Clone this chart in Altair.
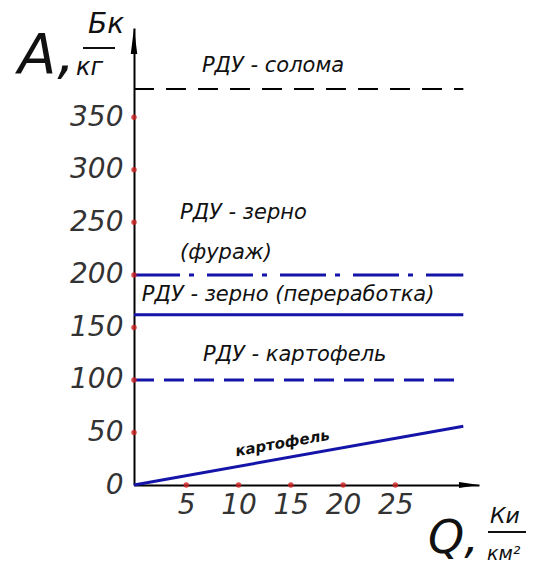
import altair as alt
import pandas as pd

# ---- data ----
Y_TICKS = [0, 50, 100, 150, 200, 250, 300, 350]
X_TICKS = [5, 10, 15, 20, 25]
RED_Y = [50, 100, 150, 200, 250, 300, 350]
RDU_NAMES = ["солома", "зерно (фураж)", "зерно (переработка)", "картофель"]
RDU_VALUES = [377, 200, 162, 100]
LINE_END_Q = 31.5
POTATO_Q = [0, 31.5]
POTATO_A = [0, 56]
X_MAX = 33
Y_MAX = 435

LABEL_TEXTS = ["РДУ - солома", "РДУ - зерно", "(фураж)", "РДУ - зерно (переработка)", "РДУ - картофель"]
LABEL_Q = [6.5, 4.4, 4.4, 0.75, 6.6]
LABEL_A = [399, 259, 221, 181, 124]

FONT = "DejaVu Sans, sans-serif"
BLUE = "#1414a8"

xs = alt.Scale(domain=[0, X_MAX], nice=False, zero=False)
ys = alt.Scale(domain=[0, Y_MAX], nice=False, zero=False)
xa = alt.Axis(values=X_TICKS, title=None, grid=False, ticks=False, domainColor="black",
              domainWidth=2, labelFont=FONT, labelFontStyle="italic", labelFontSize=28,
              labelColor="#333", labelPadding=6, labelFontWeight="normal")
ya = alt.Axis(values=Y_TICKS, title=None, grid=False, ticks=False, domainColor="black",
              domainWidth=2, labelFont=FONT, labelFontStyle="italic", labelFontSize=28,
              labelColor="#333", labelPadding=11, labelFontWeight="normal")


def X(f):
    return alt.X(f, type="quantitative", scale=xs, axis=xa)


def Y(f):
    return alt.Y(f, type="quantitative", scale=ys, axis=ya)


rdu_df = pd.DataFrame({"name": RDU_NAMES, "a": RDU_VALUES, "q": 0, "q2": LINE_END_Q})
styles = [("black", [20, 12], 2), (BLUE, [46, 9, 5, 13], 3), (BLUE, [1, 0], 3), (BLUE, [20, 10], 3)]
layers = []
for i, (col, dash, w) in enumerate(styles):
    layers.append(
        alt.Chart(rdu_df.iloc[[i]]).mark_rule(color=col, strokeDash=dash, strokeWidth=w)
        .encode(x=X("q"), x2="q2", y=Y("a"))
    )

line_df = pd.DataFrame({"q": POTATO_Q, "a": POTATO_A})
layers.append(alt.Chart(line_df).mark_line(color=BLUE, strokeWidth=3).encode(x=X("q"), y=Y("a")))

# red tick dots
dots = pd.DataFrame({"q": [0] * len(RED_Y) + X_TICKS, "a": RED_Y + [0] * len(X_TICKS)})
layers.append(alt.Chart(dots).mark_point(filled=True, color="#d02020", size=30, opacity=0.8)
              .encode(x=X("q"), y=Y("a")))

# axis arrows
arr_y = pd.DataFrame({"q": [0], "a": [Y_MAX]})
layers.append(alt.Chart(arr_y).mark_point(filled=True, color="black", opacity=1, size=676,
                                          shape="M0,0L0.25,2L-0.25,2Z")
              .encode(x=X("q"), y=Y("a")))
arr_x = pd.DataFrame({"q": [X_MAX], "a": [0]})
layers.append(alt.Chart(arr_x).mark_point(filled=True, color="black", opacity=1, size=400,
                                          shape="M0,0L-2,-0.3L-2,0.3Z")
              .encode(x=X("q"), y=Y("a")))

# RDU labels
lab_df = pd.DataFrame({"t": LABEL_TEXTS, "q": LABEL_Q, "a": LABEL_A})
layers.append(alt.Chart(lab_df).mark_text(align="left", baseline="middle", font=FONT,
                                          fontStyle="italic", fontSize=21, color="#111")
              .encode(x=X("q"), y=Y("a"), text="t"))

pot_lab = pd.DataFrame({"t": ["картофель"], "q": [14.2], "a": [40]})
layers.append(alt.Chart(pot_lab).mark_text(align="center", baseline="middle", font=FONT,
                                           fontStyle="italic", fontWeight="bold", fontSize=15,
                                           angle=350, color="#111")
              .encode(x=X("q"), y=Y("a"), text="t"))


# axis titles (pixel positions relative to plot area)
def txt(t, x, y, size):
    return alt.Chart(pd.DataFrame({"t": [t]})).mark_text(
        align="left", baseline="alphabetic", font=FONT, fontStyle="italic",
        fontSize=size, color="#111").encode(x=alt.value(x), y=alt.value(y), text="t")


def bar(x1, x2, y):
    return alt.Chart(pd.DataFrame({"t": [0]})).mark_rule(color="#111", strokeWidth=2).encode(
        x=alt.value(x1), x2=alt.value(x2), y=alt.value(y))


layers += [
    txt("A,", -116, 45, 56),
    txt("Бк", -46, 5, 28),
    bar(-51, -19, 20),
    txt("кг", -58, 47, 24),
    txt("Q,", 294, 525, 46),
    txt("Ки", 356, 495, 22),
    bar(354, 400, 504),
    txt("км²", 353, 532, 19),
]

chart = alt.layer(*layers).properties(
    width=345, height=457,
    autosize=alt.AutoSizeParams(type="none"),
    padding={"left": 126, "top": 20, "right": 47, "bottom": 79},
).configure_view(stroke=None)

chart.save("out.html", embed_options={"renderer": "svg", "actions": False})
